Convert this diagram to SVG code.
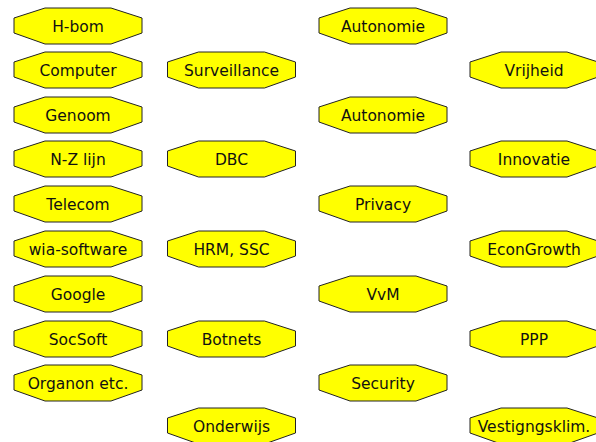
<svg xmlns="http://www.w3.org/2000/svg" width="596" height="442" viewBox="0 0 596 442">
<defs>
<style>
.n use{fill:#ffff00;stroke:#222;stroke-width:1}
.n text{font-family:"DejaVu Sans",sans-serif;font-size:15.5px;fill:#111;text-anchor:middle}
</style>
<polygon id="oct" points="-64,-8 -33,-18 33,-18 64,-8 64,7 33,18 -33,18 -64,7"/>
</defs>
<rect width="596" height="442" fill="#fff"/>
<g id="connectors"></g>
<g class="n" id="n-hbom" transform="translate(78,26)"><use href="#oct"/><text y="6">H-bom</text></g>
<g class="n" id="n-computer" transform="translate(78,70)"><use href="#oct"/><text y="6">Computer</text></g>
<g class="n" id="n-genoom" transform="translate(78,115)"><use href="#oct"/><text y="6">Genoom</text></g>
<g class="n" id="n-nzlijn" transform="translate(78,159)"><use href="#oct"/><text y="6">N-Z lijn</text></g>
<g class="n" id="n-telecom" transform="translate(78,204)"><use href="#oct"/><text y="6">Telecom</text></g>
<g class="n" id="n-wia" transform="translate(78,249)"><use href="#oct"/><text y="6">wia-software</text></g>
<g class="n" id="n-google" transform="translate(78,294)"><use href="#oct"/><text y="6">Google</text></g>
<g class="n" id="n-socsoft" transform="translate(78,339)"><use href="#oct"/><text y="6">SocSoft</text></g>
<g class="n" id="n-organon" transform="translate(78,383)"><use href="#oct"/><text y="6">Organon etc.</text></g>
<g class="n" id="n-surveillance" transform="translate(231.5,70)"><use href="#oct"/><text y="6">Surveillance</text></g>
<g class="n" id="n-dbc" transform="translate(231.5,159)"><use href="#oct"/><text y="6">DBC</text></g>
<g class="n" id="n-hrm" transform="translate(231.5,249)"><use href="#oct"/><text y="6">HRM, SSC</text></g>
<g class="n" id="n-botnets" transform="translate(231.5,339)"><use href="#oct"/><text y="6">Botnets</text></g>
<g class="n" id="n-onderwijs" transform="translate(231.5,426)"><use href="#oct"/><text y="6">Onderwijs</text></g>
<g class="n" id="n-autonomie1" transform="translate(383,26)"><use href="#oct"/><text y="6">Autonomie</text></g>
<g class="n" id="n-autonomie2" transform="translate(383,115)"><use href="#oct"/><text y="6">Autonomie</text></g>
<g class="n" id="n-privacy" transform="translate(383,204)"><use href="#oct"/><text y="6">Privacy</text></g>
<g class="n" id="n-vvm" transform="translate(383,294)"><use href="#oct"/><text y="6">VvM</text></g>
<g class="n" id="n-security" transform="translate(383,383)"><use href="#oct"/><text y="6">Security</text></g>
<g class="n" id="n-vrijheid" transform="translate(534,70)"><use href="#oct"/><text y="6">Vrijheid</text></g>
<g class="n" id="n-innovatie" transform="translate(534,159)"><use href="#oct"/><text y="6">Innovatie</text></g>
<g class="n" id="n-econgrowth" transform="translate(534,249)"><use href="#oct"/><text y="6">EconGrowth</text></g>
<g class="n" id="n-ppp" transform="translate(534,339)"><use href="#oct"/><text y="6">PPP</text></g>
<g class="n" id="n-vestigingsklim" transform="translate(534,426)"><use href="#oct"/><text y="6">Vestigngsklim.</text></g>
</svg>
